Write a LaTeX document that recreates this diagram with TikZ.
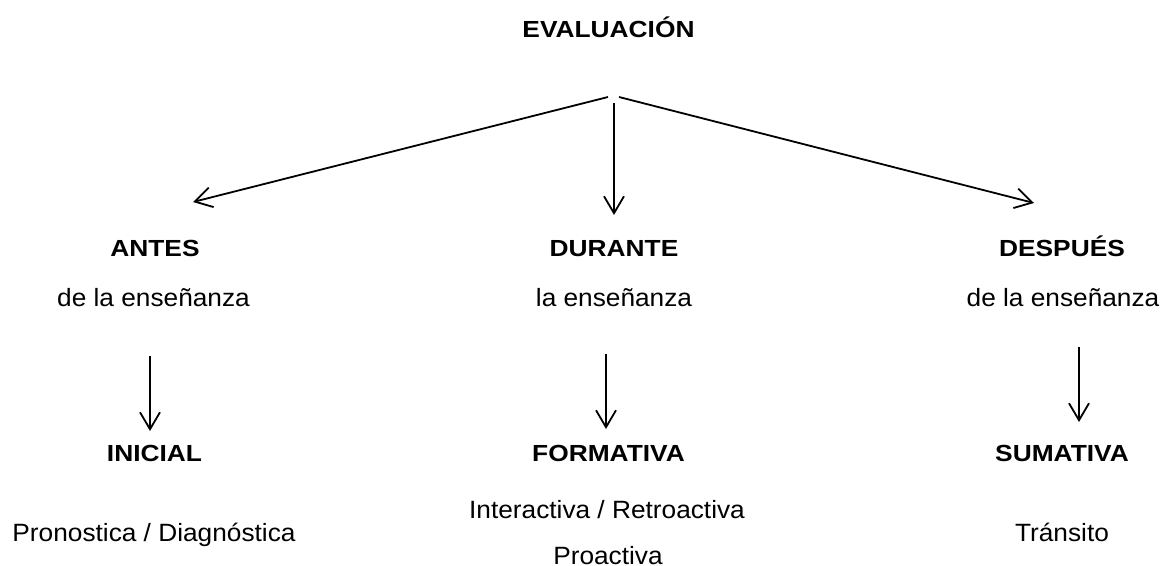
\documentclass[tikz,border=0pt]{standalone}
\usepackage{fontspec}
\setmainfont{Liberation Sans}[FakeStretch=1.05]
\newfontfamily\boldfont{Liberation Sans Bold}[FakeStretch=1.13]
\usetikzlibrary{arrows.meta}
\begin{document}
\begin{tikzpicture}[x=1pt,y=-1pt,
  title/.style={anchor=base,inner sep=0pt,font=\boldfont\fontsize{23.3}{28}\selectfont},
  plain/.style={anchor=base,inner sep=0pt,font=\fontsize{25}{30}\selectfont},
  arr/.style={line width=1.8pt,-{Straight Barb[length=17pt,width=20pt,line width=1.8pt]}}]
\useasboundingbox (0,0) rectangle (1162,565);
\node[title] (eval) at (608.5,37) {EVALUACIÓN};
\node[title] (antes) at (155,256.7) {ANTES};
\node[plain] (antes2) at (153.5,306.7) {de la enseñanza};
\node[title] (durante) at (614,256.7) {DURANTE};
\node[plain] (durante2) at (614,306.7) {la enseñanza};
\node[title] (despues) at (1062,256.7) {DESPUÉS};
\node[plain] (despues2) at (1063,306.7) {de la enseñanza};
\node[title] (inicial) at (154.5,461) {INICIAL};
\node[plain] (inicial2) at (154,541) {Pronostica / Diagnóstica};
\node[title] (formativa) at (608.5,461) {FORMATIVA};
\node[plain] (formativa2) at (607,518) {Interactiva / Retroactiva};
\node[plain] (formativa3) at (608,564) {Proactiva};
\node[title] (sumativa) at (1062,461) {SUMATIVA};
\node[plain] (sumativa2) at (1062,541) {Tránsito};
\coordinate (a1) at (608,97); \coordinate (a2) at (193,202);
\coordinate (b1) at (614,103); \coordinate (b2) at (614,215);
\coordinate (c1) at (619,97); \coordinate (c2) at (1034,203);
\coordinate (d1) at (150,356); \coordinate (d2) at (150,431);
\coordinate (e1) at (606,354); \coordinate (e2) at (606,429);
\coordinate (f1) at (1079,347); \coordinate (f2) at (1079,422);
\draw[arr] (a1) -- (a2);
\draw[arr] (b1) -- (b2);
\draw[arr] (c1) -- (c2);
\draw[arr] (d1) -- (d2);
\draw[arr] (e1) -- (e2);
\draw[arr] (f1) -- (f2);
\end{tikzpicture}
\end{document}
